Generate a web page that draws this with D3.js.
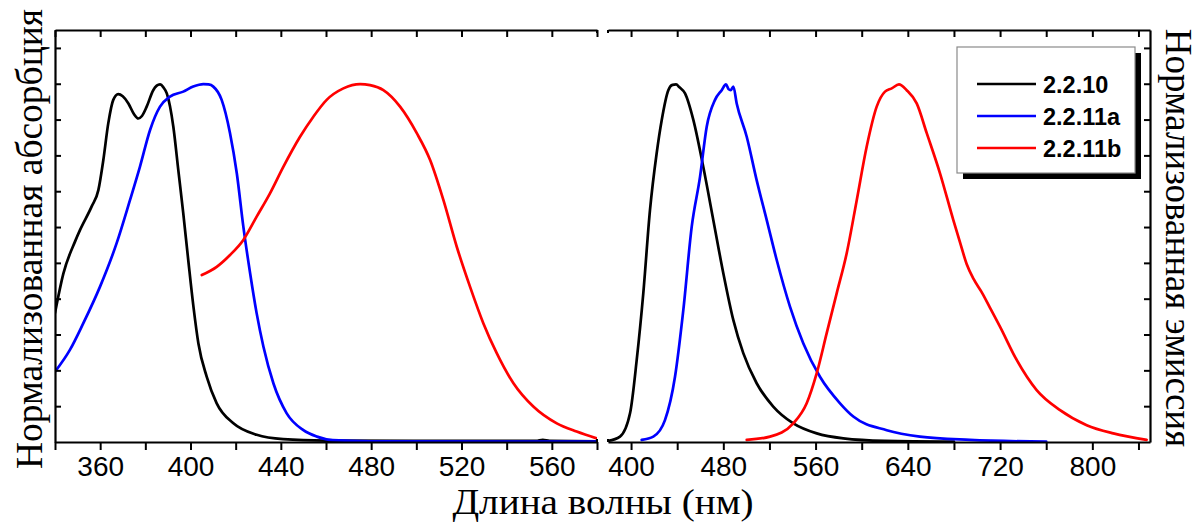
<!DOCTYPE html>
<html>
<head>
<meta charset="utf-8">
<script src="https://cdn.jsdelivr.net/npm/d3@7/dist/d3.min.js"></script>
<style>
  html, body { margin: 0; padding: 0; background: #ffffff; }
  svg { display: block; }
</style>
</head>
<body>
<svg id="chart" width="1200" height="522"></svg>
<script>
// ---------------- DATA ----------------
const seriesNames = ["2.2.10", "2.2.11a", "2.2.11b"];
const seriesColors = ["#000000", "#0000ff", "#ff0000"];

// absorption (left panel) [nm, normalized]
const abs_2_2_10 = [[340,0.36],[343.7,0.47],[348.9,0.56],[351.1,0.592],[356.2,0.657],[359.2,0.703],[361.4,0.787],[363.6,0.89],[365.8,0.955],[368,0.971],[370,0.965],[372.5,0.945],[375,0.915],[376.9,0.903],[378.5,0.91],[380.6,0.936],[383.5,0.982],[386.5,0.998],[388,0.99],[389.5,0.973],[392.4,0.88],[394.6,0.759],[396.8,0.638],[399,0.508],[401.3,0.378],[403.5,0.275],[407.2,0.182],[411.6,0.108],[419,0.052],[429.3,0.02],[441,0.008],[460,0.004],[500,0.003],[540,0.003],[553,0.003],[556,0.006],[559,0.003],[580,0.002]];
const abs_2_2_11a = [[340,0.196],[346.6,0.257],[352.5,0.331],[359.9,0.433],[367.3,0.555],[373.2,0.675],[377.6,0.768],[382.1,0.871],[386.5,0.936],[390.9,0.964],[396.8,0.978],[401.2,0.992],[405.7,0.999],[408,0.998],[410.1,0.992],[413.8,0.955],[417.5,0.862],[420.5,0.75],[423.4,0.601],[426.4,0.471],[429.3,0.359],[432.3,0.266],[436.7,0.164],[442.6,0.08],[450,0.033],[456,0.015],[463,0.005],[480,0.002],[580,0.001]];
const abs_2_2_11b = [[405,0.466],[411.6,0.489],[417.5,0.522],[423.4,0.564],[429.3,0.629],[435.2,0.694],[441.1,0.768],[448.5,0.852],[454.4,0.908],[460.3,0.955],[467.7,0.987],[475.1,0.999],[479.5,0.996],[485.4,0.982],[492.8,0.936],[500.2,0.862],[506.1,0.787],[512,0.675],[517.9,0.545],[523.8,0.433],[529.7,0.331],[535.6,0.248],[543,0.164],[551.8,0.099],[562.2,0.052],[571,0.029],[579.9,0.01]];

// emission (right panel) [nm, normalized]
const em_2_2_10 = [[380,0.003],[390.4,0.015],[399.1,0.08],[404.9,0.229],[410.6,0.415],[416.4,0.647],[422.2,0.806],[426.6,0.899],[432.3,0.982],[436,0.997],[439,0.998],[442,0.99],[446.8,0.973],[454,0.899],[462.6,0.768],[471.3,0.62],[480,0.471],[488.7,0.34],[497.3,0.248],[508.9,0.164],[523.3,0.099],[540.7,0.052],[561,0.024],[584,0.01],[620,0.003],[680,0.001]];
const em_2_2_11a = [[409.2,0.006],[419.3,0.015],[429.4,0.061],[438.1,0.182],[445.3,0.368],[452.6,0.601],[459.8,0.74],[465.6,0.88],[472.8,0.955],[478.6,0.982],[482.3,0.998],[484.5,0.985],[486.4,0.982],[488.7,0.992],[491.6,0.945],[500.3,0.852],[508.9,0.731],[517.6,0.62],[526.3,0.508],[537.8,0.378],[549.4,0.275],[563.8,0.182],[581.2,0.108],[592.7,0.071],[621.7,0.033],[650.5,0.015],[693.9,0.006],[760,0.001]];
const em_2_2_11b = [[500.3,0.006],[520.5,0.015],[540.7,0.052],[552.3,0.108],[561,0.192],[569.6,0.303],[578.3,0.415],[587,0.527],[595.7,0.675],[604.3,0.824],[613,0.936],[620.2,0.978],[626,0.987],[632.3,0.998],[639,0.982],[647.7,0.945],[656.4,0.862],[667.9,0.75],[679.4,0.62],[685,0.56],[691,0.497],[697,0.455],[705,0.413],[712,0.37],[719.9,0.322],[734.4,0.229],[751.7,0.145],[772,0.089],[795.1,0.047],[818.2,0.024],[847.1,0.006]];

const leftMajorTicks = [360, 400, 440, 480, 520, 560];
const leftMinorTicks = [340, 380, 420, 460, 500, 540, 580];
const rightMajorTicks = [400, 480, 560, 640, 720, 800];
const rightMinorTicks = [440, 520, 600, 680, 760, 840];
const yTicks = [0.1,0.2,0.3,0.4,0.5,0.6,0.7,0.8,0.9,1.0,1.1];

const xLabel = "Длина волны (нм)";
const yLabelLeft = "Нормализованная абсорбция";
const yLabelRight = "Нормализованная эмиссия";

// ---------------- LAYOUT ----------------
const svg = d3.select("#chart");
const topY = 30, bottomY = 442;
const xL = d3.scaleLinear().domain([340, 580]).range([55, 597]);
const xR = d3.scaleLinear().domain([380, 850]).range([608, 1150]);
const y = d3.scaleLinear().domain([0, 1.15]).range([bottomY, topY]);

const defs = svg.append("defs");
defs.append("clipPath").attr("id", "clipL").append("rect")
  .attr("x", 55).attr("y", topY - 5).attr("width", 542).attr("height", bottomY - topY + 6);
defs.append("clipPath").attr("id", "clipR").append("rect")
  .attr("x", 608).attr("y", topY - 5).attr("width", 542).attr("height", bottomY - topY + 6);

function drawLines(xs, clip, datasets) {
  const g = svg.append("g").attr("clip-path", `url(#${clip})`);
  const line = d3.line().x(d => xs(d[0])).y(d => y(d[1])).curve(d3.curveMonotoneX);
  datasets.forEach((ds, i) => {
    g.append("path").attr("d", line(ds)).attr("fill", "none")
      .attr("stroke", seriesColors[i]).attr("stroke-width", 2.7)
      .attr("stroke-linejoin", "round").attr("stroke-linecap", "round");
  });
}
drawLines(xL, "clipL", [abs_2_2_10, abs_2_2_11a, abs_2_2_11b]);
drawLines(xR, "clipR", [em_2_2_10, em_2_2_11a, em_2_2_11b]);

function styleAxis(g) {
  g.selectAll("path.domain").attr("stroke", "#000").attr("stroke-width", 2.2);
  g.selectAll(".tick line").attr("stroke", "#000").attr("stroke-width", 2);
  g.selectAll(".tick text").attr("font-family", "Arial, 'Liberation Sans', sans-serif")
    .attr("font-size", 28).attr("fill", "#000");
}

function panelAxes(xs, major, minor) {
  const all = major.concat(minor).filter(v => v >= xs.domain()[0] && v <= xs.domain()[1]).sort((a,b)=>a-b);
  svg.append("g").attr("transform", `translate(0,${bottomY})`)
    .call(d3.axisBottom(xs).tickValues(all).tickSize(8).tickSizeOuter(0).tickPadding(6)
      .tickFormat(d => major.includes(d) ? d : ""))
    .call(styleAxis);
  svg.append("g").attr("transform", `translate(0,${topY})`)
    .call(d3.axisTop(xs).tickValues(all).tickSize(-7).tickSizeOuter(0).tickFormat(""))
    .call(styleAxis);
}
panelAxes(xL, leftMajorTicks, leftMinorTicks);
panelAxes(xR, rightMajorTicks, rightMinorTicks);

svg.append("g").attr("transform", `translate(55,0)`)
  .call(d3.axisLeft(y).tickValues(yTicks).tickSize(-6).tickSizeOuter(0).tickFormat(""))
  .call(styleAxis);
svg.append("g").attr("transform", `translate(1150,0)`)
  .call(d3.axisRight(y).tickValues(yTicks).tickSize(-6).tickSizeOuter(0).tickFormat(""))
  .call(styleAxis);

// small break caps at the inner panel edges
[597, 608].forEach(xp => {
  svg.append("line").attr("x1", xp).attr("x2", xp).attr("y1", topY).attr("y2", topY + 3)
    .attr("stroke", "#000").attr("stroke-width", 2);
  svg.append("line").attr("x1", xp).attr("x2", xp).attr("y1", bottomY - 3).attr("y2", bottomY)
    .attr("stroke", "#000").attr("stroke-width", 2);
});

// ---------------- LABELS ----------------
const serif = "'Liberation Serif', 'Times New Roman', serif";
svg.append("text").attr("transform", "translate(603,514) scale(1.12,1)").attr("text-anchor", "middle")
  .attr("font-family", serif).attr("font-size", 35).attr("fill", "#000").text(xLabel);
svg.append("text").attr("transform", "translate(42,239) rotate(-90)").attr("text-anchor", "middle")
  .attr("font-family", serif).attr("font-size", 37.5).attr("fill", "#000").text(yLabelLeft);
svg.append("text").attr("transform", "translate(1166,238) rotate(90)").attr("text-anchor", "middle")
  .attr("font-family", serif).attr("font-size", 37).attr("fill", "#000").text(yLabelRight);

// ---------------- LEGEND ----------------
const lg = svg.append("g");
lg.append("rect").attr("x", 963).attr("y", 53).attr("width", 178).attr("height", 126).attr("fill", "#000");
lg.append("rect").attr("x", 957).attr("y", 47).attr("width", 178).attr("height", 126)
  .attr("fill", "#fff").attr("stroke", "#8a8a8a").attr("stroke-width", 1.2);
const rowY = d3.scalePoint().domain(seriesNames).range([84, 148]);
seriesNames.forEach((n, i) => {
  lg.append("line").attr("x1", 977).attr("x2", 1036).attr("y1", rowY(n)).attr("y2", rowY(n))
    .attr("stroke", seriesColors[i]).attr("stroke-width", 2.6);
  lg.append("text").attr("x", 1043).attr("y", rowY(n) + 9)
    .attr("font-family", "Arial, 'Liberation Sans', sans-serif").attr("font-weight", "bold")
    .attr("font-size", 23.5).attr("fill", "#000").text(n);
});
</script>
</body>
</html>
